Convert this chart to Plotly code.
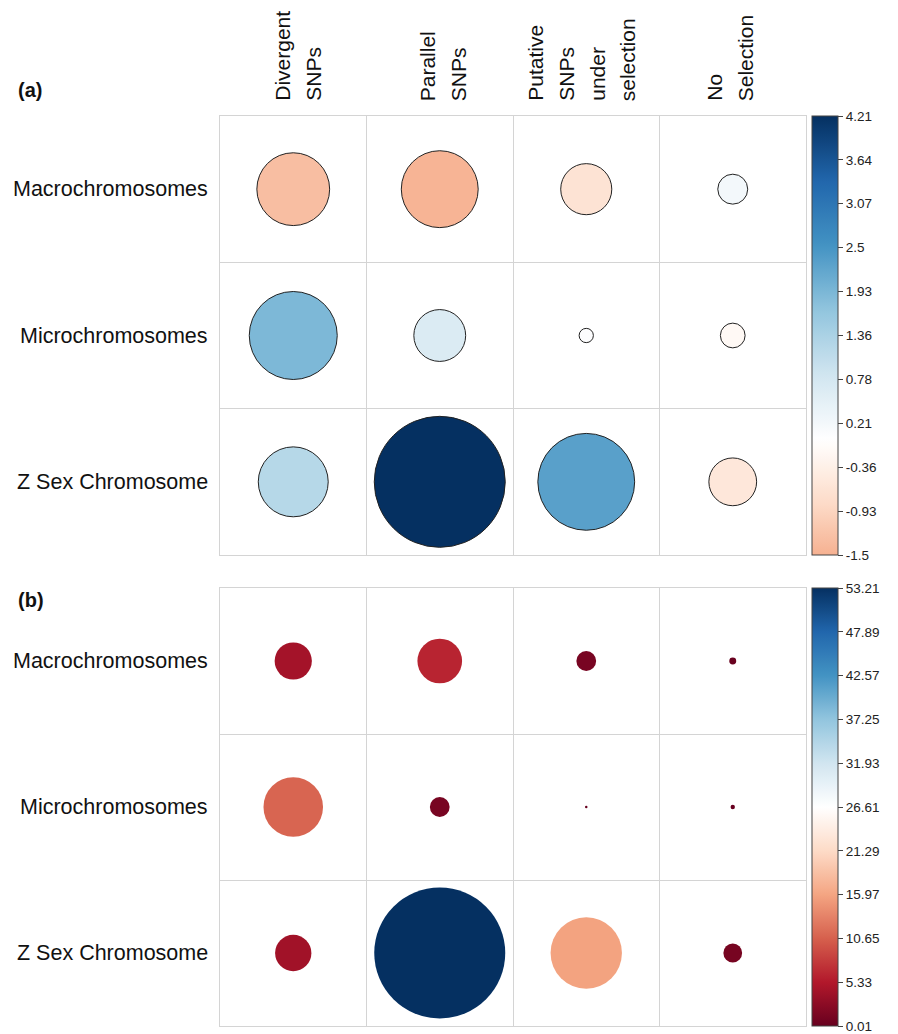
import plotly.graph_objects as go

# ---- data -------------------------------------------------------------
columns = [["Divergent", "SNPs"], ["Parallel", "SNPs"],
           ["Putative", "SNPs", "under", "selection"], ["No", "Selection"]]
rows = ["Macrochromosomes", "Microchromosomes", "Z Sex Chromosome"]

# panel (a): standardised enrichment scores
values_a = [
    [-1.30, -1.45, -0.64, 0.22],
    [1.90, 0.66, 0.05, -0.15],
    [1.20, 4.21, 2.30, -0.56],
]
# panel (b): percentages
values_b = [
    [4.30, 6.20, 1.22, 0.16],
    [11.00, 1.22, 0.03, 0.07],
    [4.10, 53.21, 15.80, 1.10],
]
ticks_a = [4.21, 3.64, 3.07, 2.5, 1.93, 1.36, 0.78, 0.21, -0.36, -0.93, -1.5]
ticks_b = [53.21, 47.89, 42.57, 37.25, 31.93, 26.61, 21.29, 15.97, 10.65, 5.33, 0.01]

# diverging red-white-blue ramp
ramp = ["#67001F", "#B2182B", "#D6604D", "#F4A582", "#FDDBC7", "#FFFFFF",
        "#D1E5F0", "#92C5DE", "#4393C3", "#2166AC", "#053061"]

W, H = 898, 1034
FONT = "Liberation Sans, Arial, sans-serif"


def hex_rgb(h):
    h = h.lstrip("#")
    return tuple(int(h[i:i + 2], 16) for i in (0, 2, 4))


def ramp_at(t):
    """Linear interpolation along the ramp, t in [0, 1]."""
    t = min(max(t, 0.0), 1.0)
    pos = t * (len(ramp) - 1)
    i = min(int(pos), len(ramp) - 2)
    f = pos - i
    a, b = hex_rgb(ramp[i]), hex_rgb(ramp[i + 1])
    c = [round(a[k] + (b[k] - a[k]) * f) for k in range(3)]
    return "rgb(%d,%d,%d)" % tuple(c)


def sub_scale(t0, t1, n=60):
    return [[k / n, ramp_at(t0 + (t1 - t0) * k / n)] for k in range(n + 1)]


def px_x(p):
    return p / W


def px_y(p):
    return 1 - p / H


fig = go.Figure()

# grid geometry (pixels)
left, right = 220, 806
a_top, a_bot = 116, 555
b_top, b_bot = 588, 1026
max_diam = 131

xs, ys = [], []
for r in range(len(rows)):
    for c in range(len(columns)):
        xs.append(c + 1)
        ys.append(r + 1)


def colorbar(top, bot, ticks):
    return dict(
        x=px_x(812), xanchor="left", xpad=0, ypad=0,
        y=px_y((top + bot) / 2), yanchor="middle",
        len=(bot - top) / H, lenmode="fraction", thickness=26,
        outlinecolor="#444444", outlinewidth=1,
        tickvals=ticks, ticktext=[str(t) for t in ticks],
        ticks="outside", ticklen=5, tickcolor="#444444",
        tickfont=dict(family=FONT, size=13.5, color="#222222"),
    )


# panel (a): colour over symmetric range, legend truncated to data range
amax = max(abs(v) for row in values_a for v in row)
flat_a = [v for row in values_a for v in row]
t0 = (min(ticks_a) + amax) / (2 * amax)
fig.add_trace(go.Scatter(
    x=xs, y=ys, mode="markers", xaxis="x", yaxis="y",
    marker=dict(
        size=[abs(v) for v in flat_a], sizemode="area",
        sizeref=2 * amax / max_diam ** 2, sizemin=0, opacity=1,
        color=flat_a, cmin=min(ticks_a), cmax=max(ticks_a),
        colorscale=sub_scale(t0, 1.0),
        line=dict(color="#222222", width=1),
        colorbar=colorbar(a_top, a_bot, ticks_a),
    ),
    hoverinfo="skip", showlegend=False,
))

# panel (b): all positive, full ramp over the data range
flat_b = [v for row in values_b for v in row]
bmin, bmax = min(ticks_b), max(ticks_b)
fig.add_trace(go.Scatter(
    x=xs, y=ys, mode="markers", xaxis="x2", yaxis="y2",
    marker=dict(
        size=[v - bmin for v in flat_b], sizemode="area",
        sizeref=2 * (bmax - bmin) / max_diam ** 2, sizemin=0, opacity=1,
        color=flat_b, cmin=bmin, cmax=bmax,
        colorscale=sub_scale(0.0, 1.0),
        line=dict(width=0),
        colorbar=colorbar(b_top, b_bot, ticks_b),
    ),
    hoverinfo="skip", showlegend=False,
))

grid = "#D4D4D4"
xaxis_common = dict(
    range=[0.5, len(columns) + 0.5], tickvals=[1.5, 2.5, 3.5],
    showticklabels=False, ticks="", showgrid=True, gridcolor=grid, gridwidth=1,
    zeroline=False, showline=True, linecolor=grid, linewidth=1, mirror=True,
    fixedrange=True,
)
yaxis_common = dict(
    range=[len(rows) + 0.5, 0.5], tickvals=[1.5, 2.5],
    showticklabels=False, ticks="", showgrid=True, gridcolor=grid, gridwidth=1,
    zeroline=False, showline=True, linecolor=grid, linewidth=1, mirror=True,
    fixedrange=True,
)

annotations = []
for top, bot in [(a_top, a_bot), (b_top, b_bot)]:
    cell = (bot - top) / len(rows)
    for i, name in enumerate(rows):
        annotations.append(dict(
            text=name, xref="paper", yref="paper",
            x=px_x(210), y=px_y(top + cell * (i + 0.5)),
            xanchor="right", yanchor="middle", showarrow=False,
            font=dict(family=FONT, size=21.5, color="#111111"),
        ))
for tag, ypx in [("(a)", 90), ("(b)", 600)]:
    annotations.append(dict(text="<b>%s</b>" % tag, xref="paper", yref="paper",
                            x=px_x(16), y=px_y(ypx), xanchor="left",
                            yanchor="middle", showarrow=False,
                            font=dict(family=FONT, size=20, color="#111111")))

# rotated column headers, one annotation per text line
colw = (right - left) / len(columns)
pitch = 31
nudge = [4, 3, -5, -3]
for j, lines in enumerate(columns):
    centre = left + colw * (j + 0.5) + nudge[j]
    n = len(lines)
    for k, word in enumerate(lines):
        annotations.append(dict(
            text=word, xref="paper", yref="paper",
            x=px_x(centre + (k - (n - 1) / 2) * pitch), y=px_y(103),
            xanchor="center", yanchor="bottom", textangle=-90,
            showarrow=False,
            font=dict(family=FONT, size=21, color="#111111"),
        ))

fig.update_layout(
    width=W, height=H, margin=dict(l=0, r=0, t=0, b=0),
    paper_bgcolor="white", plot_bgcolor="white",
    xaxis=dict(domain=[px_x(left), px_x(right)], anchor="y", **xaxis_common),
    yaxis=dict(domain=[px_y(a_bot), px_y(a_top)], anchor="x", **yaxis_common),
    xaxis2=dict(domain=[px_x(left), px_x(right)], anchor="y2", **xaxis_common),
    yaxis2=dict(domain=[px_y(b_bot), px_y(b_top)], anchor="x2", **yaxis_common),
    annotations=annotations,
)

fig.write_html("out.html")
